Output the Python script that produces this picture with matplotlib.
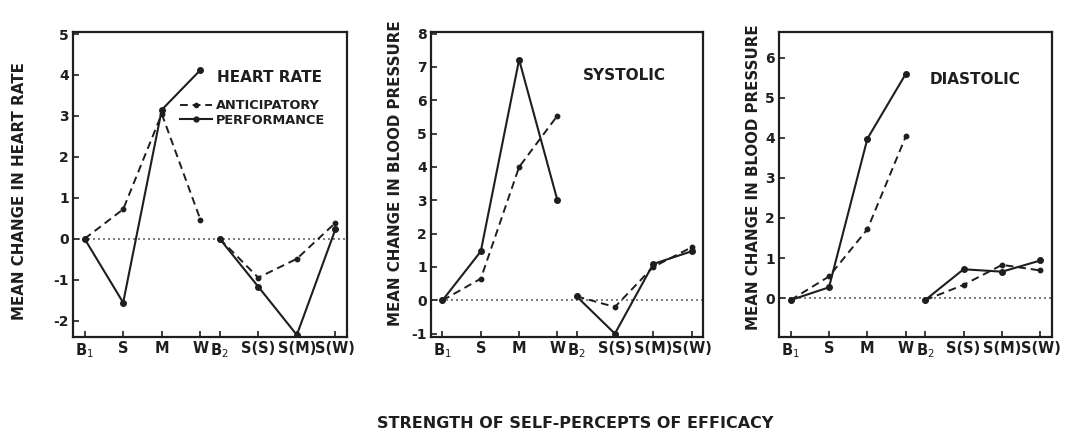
import matplotlib
matplotlib.use("Agg")
import matplotlib.pyplot as plt
from matplotlib.lines import Line2D

# ---- data ----
x_labels = [r"B$_1$", "S", "M", "W", r"B$_2$", "S(S)", "S(M)", "S(W)"]
group1_x = [0, 1, 2, 3]
group2_x = [3.5, 4.5, 5.5, 6.5]

hr_perf_1 = [0.0, -1.56, 3.15, 4.12]
hr_perf_2 = [0.0, -1.17, -2.35, 0.23]
hr_anti_1 = [0.0, 0.72, 3.05, 0.47]
hr_anti_2 = [0.0, -0.95, -0.49, 0.39]

sys_perf_1 = [0.0, 1.47, 7.22, 3.0]
sys_perf_2 = [0.12, -1.0, 1.09, 1.47]
sys_anti_1 = [0.0, 0.65, 4.0, 5.54]
sys_anti_2 = [0.12, -0.2, 1.0, 1.59]

dia_perf_1 = [-0.05, 0.27, 3.98, 5.6]
dia_perf_2 = [-0.05, 0.72, 0.66, 0.94]
dia_anti_1 = [-0.05, 0.54, 1.72, 4.04]
dia_anti_2 = [-0.05, 0.33, 0.83, 0.69]

panels = [
    dict(title="HEART RATE", ylabel="MEAN CHANGE IN HEART RATE",
         perf=(hr_perf_1, hr_perf_2), anti=(hr_anti_1, hr_anti_2),
         ylim=(-2.4, 5.05), yticks=list(range(-2, 6)),
         rect=[73, 347], title_pos=(0.526, 0.852), ylab=(20, 191), legend=True),
    dict(title="SYSTOLIC", ylabel="MEAN CHANGE IN BLOOD PRESSURE",
         perf=(sys_perf_1, sys_perf_2), anti=(sys_anti_1, sys_anti_2),
         ylim=(-1.1, 8.05), yticks=list(range(-1, 9)),
         rect=[431, 703], title_pos=(0.56, 0.856), ylab=(396, 173), legend=False),
    dict(title="DIASTOLIC", ylabel="MEAN CHANGE IN BLOOD PRESSURE",
         perf=(dia_perf_1, dia_perf_2), anti=(dia_anti_1, dia_anti_2),
         ylim=(-0.97, 6.64), yticks=list(range(0, 7)),
         rect=[779, 1052], title_pos=(0.553, 0.843), ylab=(753, 177), legend=False),
]

W, H = 1073, 432
plt.rcParams['font.family'] = ['DejaVu Sans']
fig = plt.figure(figsize=(W / 100, H / 100), dpi=100)
fig.patch.set_facecolor("white")

ink = "#1e1e1e"
dash = (0, (4, 2.5))
top_px, bot_px = 32, 337

for p in panels:
    l, r = p["rect"]
    ax = fig.add_axes([l / W, (H - bot_px) / H, (r - l) / W, (bot_px - top_px) / H])
    xs_all = group1_x + group2_x
    ax.axhline(0, color="#666666", lw=1.2, ls=(0, (1.2, 1.8)), zorder=1)
    for gx, perf, anti in zip((group1_x, group2_x), p["perf"], p["anti"]):
        ax.plot(gx, anti, color=ink, lw=1.4, ls=dash, marker="o", ms=3.2, zorder=2)
        ax.plot(gx, perf, color=ink, lw=1.5, ls="-", marker="o", ms=4, zorder=3)
    ax.set_xlim(-0.3, 6.8)
    ax.set_ylim(*p["ylim"])
    ax.set_xticks(xs_all)
    ax.set_xticklabels(x_labels, fontsize=10.5, fontweight="bold", color=ink)
    ax.set_yticks(p["yticks"])
    ax.set_yticklabels([str(v) for v in p["yticks"]], fontsize=10,
                       fontweight="bold", color=ink)
    ax.tick_params(direction="in", length=4, width=1.2, color=ink, pad=3)
    for s in ax.spines.values():
        s.set_linewidth(1.6)
        s.set_color(ink)
    ax.text(p["title_pos"][0], p["title_pos"][1], p["title"], transform=ax.transAxes,
            fontsize=11, fontweight="bold", color=ink, ha="left", va="center")
    fig.text(p["ylab"][0] / W, (H - p["ylab"][1]) / H, p["ylabel"], rotation=90,
             fontsize=10.8, fontweight="bold", color=ink, ha="center", va="center")
    if p["legend"]:
        handles = [
            Line2D([], [], color=ink, lw=1.4, ls=dash, marker="o", ms=3),
            Line2D([], [], color=ink, lw=1.5, ls="-", marker="o", ms=3.5),
        ]
        ax.legend(handles, ["ANTICIPATORY", "PERFORMANCE"], loc="upper left",
                  bbox_to_anchor=(0.39, 0.78), frameon=False,
                  prop=dict(size=9.3, weight="bold"), handlelength=2.5,
                  handletextpad=0.3, labelspacing=0.12, borderaxespad=0,
                  borderpad=0, labelcolor=ink)

fig.text(575 / W, (H - 423) / H, "STRENGTH OF SELF-PERCEPTS OF EFFICACY",
         fontsize=11.5, fontweight="bold", color=ink, ha="center", va="center")

fig.savefig("out.png", dpi=100, facecolor="white")
